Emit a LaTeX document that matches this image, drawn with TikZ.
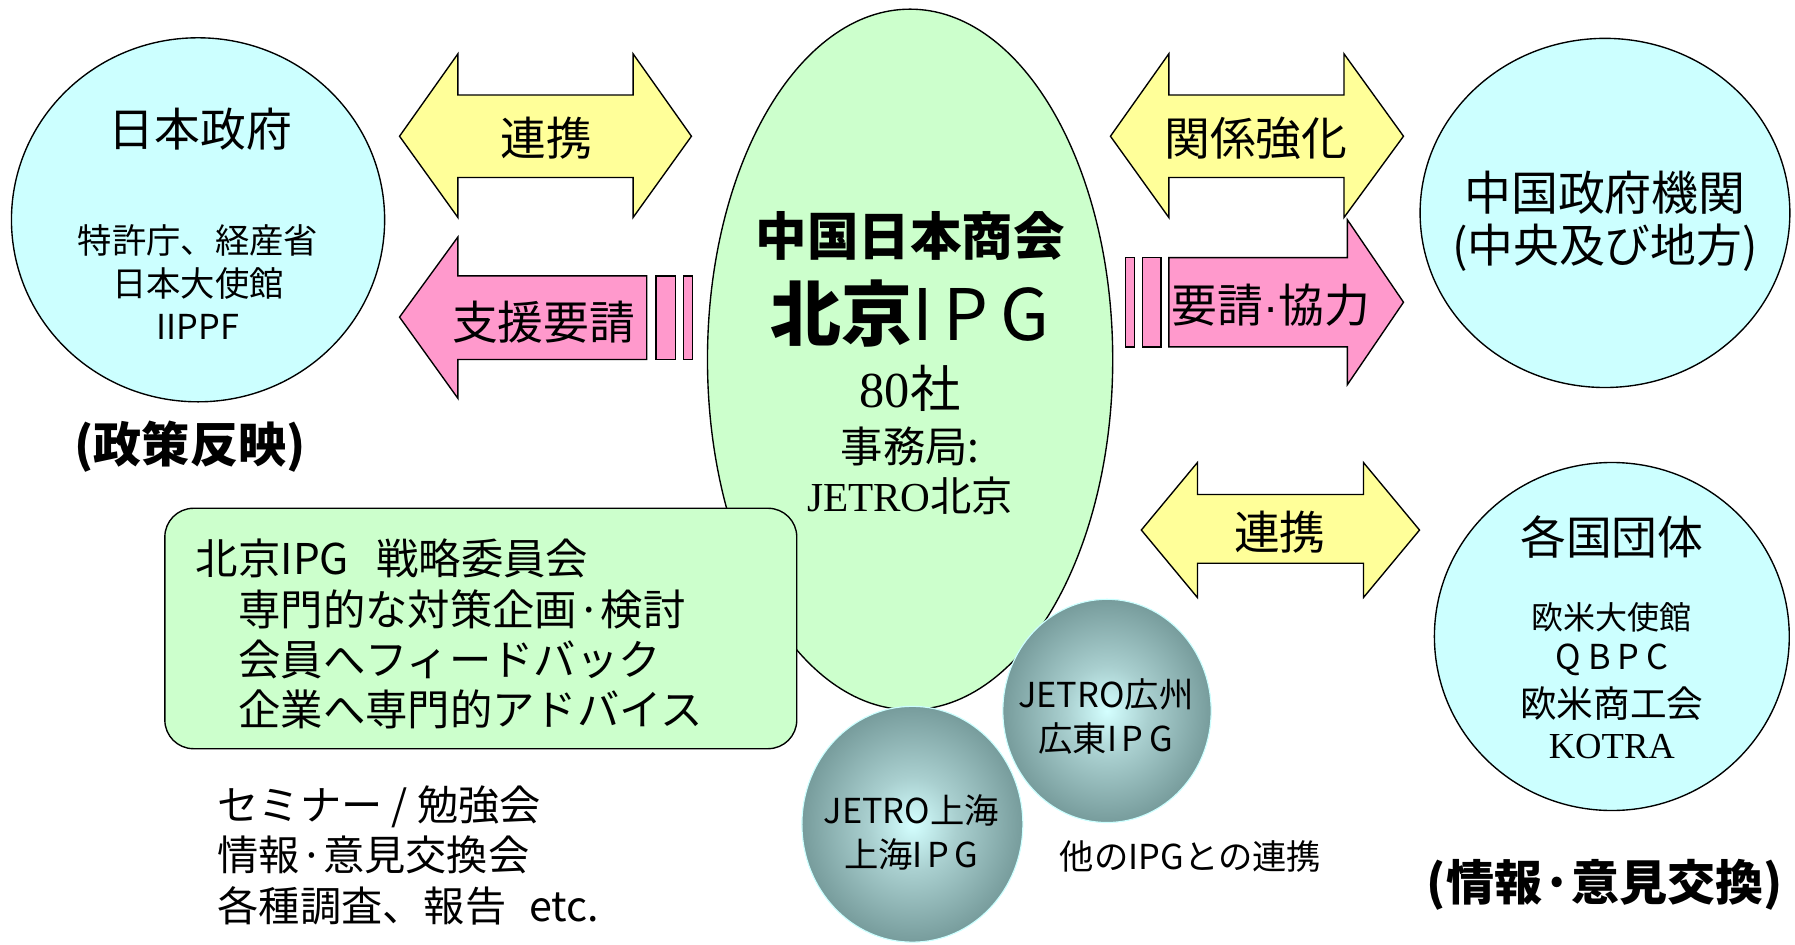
\documentclass[tikz,border=0pt]{standalone}
\usepackage{fontspec}
\setmainfont{Noto Sans CJK JP}
\newfontfamily\romanfont{Liberation Serif}
\newfontfamily\latinsans{Liberation Sans}
\usetikzlibrary{shapes.geometric}

\definecolor{govcyan}{HTML}{CCFFFF}
\definecolor{ipggreen}{HTML}{CCFFCC}
\definecolor{linkyellow}{HTML}{FFFF99}
\definecolor{reqpink}{HTML}{FF99CC}
\definecolor{spherecore}{HTML}{D4FFFF}
\definecolor{spheremid}{HTML}{A9CFCF}
\definecolor{sphereedge}{HTML}{779C9C}
\pgfdeclareradialshading{sphereshade}{\pgfpoint{0bp}{0bp}}{color(0bp)=(spherecore); color(10bp)=(spheremid); color(25bp)=(sphereedge); color(50bp)=(sphereedge)}

\begin{document}
\begin{tikzpicture}[x=1pt,y=-1pt]
 \tikzset{
  gov circle/.style={ellipse, draw, line width=1.2pt, fill=govcyan, inner sep=0pt},
  link arrow/.style={draw, line width=1.2pt, fill=linkyellow},
  req arrow/.style={draw, line width=1.2pt, fill=reqpink},
  ipg sphere/.style={ellipse, draw=govcyan, line width=1pt, shading=sphereshade, inner sep=0pt},
  title text/.style={inner sep=0pt, font=\fontsize{40}{48}\selectfont},
  small text/.style={inner sep=0pt, align=center, font=\fontsize{30}{38}\selectfont},
  list text/.style={inner sep=0pt, align=left, anchor=west, font=\fontsize{#1}{44}\selectfont},
  list text/.default=36
 }
\useasboundingbox (0,0) rectangle (1568,825);

% Beijing IPG in the middle
\node[ellipse, draw, line width=1.2pt, fill=ipggreen, minimum width=354pt, minimum height=612pt, inner sep=0pt] (ipg) at (795,314) {};
\node[draw, line width=1.2pt, fill=ipggreen, rounded corners=25pt, minimum width=552pt, minimum height=210pt] (board) at (420,549) {};
\node[ipg sphere, minimum width=182pt, minimum height=195pt] (gz) at (967,621) {};
\node[ipg sphere, minimum width=193pt, minimum height=206pt] (sh) at (797,720) {};

\node[inner sep=0pt, font=\fontsize{45}{54}\selectfont\bfseries] (chamber) at (795,206) {中国日本商会};
\node[inner sep=0pt, font=\fontsize{62}{70}\selectfont] (ipgname) at (795,274) {{\bfseries 北京}I\hspace{9pt}P\hspace{11pt}G};
\node[inner sep=0pt, font=\fontsize{44}{52}\selectfont] (members) at (795,339) {{\romanfont 80}社};
\node[inner sep=0pt, font=\fontsize{37}{44}\selectfont] (office) at (795,390) {事務局:};
\node[inner sep=0pt, font=\fontsize{36}{44}\selectfont] (officename) at (795,433) {{\romanfont JETRO}北京};

\node[list text=37] (boardtext) at (171,554) {北京IPG\hspace{24pt}戦略委員会\\　専門的な対策企画·検討\\　会員へフィードバック\\　企業へ専門的アドバイス};
\node[list text] (activities) at (190,747) {セミナー / 勉強会\\情報·意見交換会\\各種調査、報告\hspace{20pt}etc.};

\node[small text] (gzname) at (966,626) {JETRO広州\\広東I\hspace{4pt}P\hspace{5pt}G};
\node[small text] (shname) at (796,727) {JETRO上海\\上海I\hspace{4pt}P\hspace{5pt}G};
\node[small text] (otheripg) at (1040,748) {他のIPGとの連携};

% Japanese government
\node[gov circle, minimum width=326pt, minimum height=318pt] (jpgov) at (173,192) {};
\node[title text] (jpgovname) at (175,113) {日本政府};
\node[small text, font=\fontsize{30}{37.5}\selectfont] (jpgovlist) at (173,246) {特許庁、経産省\\日本大使館\\IIPPF};
\node[inner sep=0pt, font=\fontsize{42}{50}\selectfont\bfseries] (policy) at (166,390) {(政策反映)};

% Chinese government
\node[gov circle, minimum width=323pt, minimum height=305pt] (cngov) at (1402,186) {};
\node[inner sep=0pt, font=\fontsize{41}{48}\selectfont] (cngovname) at (1402,168) {中国政府機関};
\node[inner sep=0pt, font=\fontsize{40}{48}\selectfont] (cngovsub) at (1402,216) {(中央及び地方)};

% other countries
\node[gov circle, minimum width=310pt, minimum height=304pt] (others) at (1408,556) {};
\node[title text] (othersname) at (1408,469) {各国団体};
\node[inner sep=0pt, font=\fontsize{28}{34}\selectfont] (embassy) at (1408,539) {欧米大使館};
\node[inner sep=0pt, font=\fontsize{30}{36}\selectfont] (qbpc) at (1408,576) {Q\hspace{6pt}B\hspace{6pt}P\hspace{6pt}C};
\node[inner sep=0pt, font=\fontsize{32}{38}\selectfont] (chambers) at (1408,615) {欧米商工会};
\node[inner sep=0pt, font=\fontsize{32}{38}\selectfont\romanfont] (kotra) at (1408,652) {KOTRA};
\node[inner sep=0pt, font=\fontsize{42}{50}\selectfont\bfseries] (exchange) at (1402,773) {(情報·意見交換)};

% arrows
\draw[link arrow] (349,119) -- (400,47) -- (400,83) -- (553,83) -- (553,47) -- (604,119)
  -- (553,190) -- (553,155) -- (400,155) -- (400,190) -- cycle;
\node[title text] (coop) at (477,121) {連携};

\draw[req arrow] (349,277) -- (400,207) -- (400,241) -- (565,241) -- (565,314) -- (400,314) -- (400,348) -- cycle;
\draw[req arrow] (573,241) rectangle (590,314);
\draw[req arrow] (597,241) rectangle (605,314);
\node[title text] (support) at (475,281) {支援要請};

\draw[link arrow] (970,119) -- (1021,47) -- (1021,83) -- (1174,83) -- (1174,47) -- (1226,119)
  -- (1174,190) -- (1174,155) -- (1021,155) -- (1021,190) -- cycle;
\node[title text] (ties) at (1097,121) {関係強化};

\draw[req arrow] (1021,225) -- (1177,225) -- (1177,192) -- (1226,264) -- (1177,336) -- (1177,303) -- (1021,303) -- cycle;
\draw[req arrow] (983,225) rectangle (991,303);
\draw[req arrow] (998,225) rectangle (1014,303);
\node[title text] (request) at (1110,267) {要請{\latinsans ·}協力};

\draw[link arrow] (997,463) -- (1046,404) -- (1046,432) -- (1191,432) -- (1191,404) -- (1240,463)
  -- (1191,522) -- (1191,492) -- (1046,492) -- (1046,522) -- cycle;
\node[title text] (coop2) at (1118,465) {連携};
\end{tikzpicture}
\end{document}
